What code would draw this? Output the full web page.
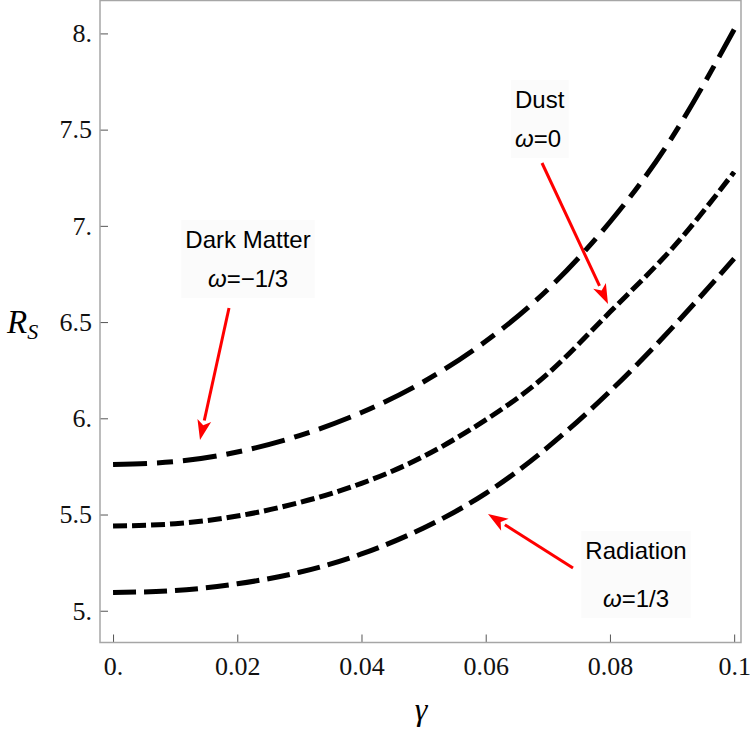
<!DOCTYPE html>
<html>
<head>
<meta charset="utf-8">
<script src="https://cdn.jsdelivr.net/npm/d3@7"></script>
<style>
  body { margin: 0; background: #fff; }
  svg { display: block; }
</style>
</head>
<body>
<div id="chart"></div>
<script>
// gamma values sampled along the curves
const gammas = [0, 0.01, 0.02, 0.03, 0.04, 0.05, 0.06, 0.07, 0.08, 0.09, 0.1];

// R_S for each fluid
const darkMatter = [5.76, 5.775, 5.825, 5.91, 6.03, 6.19, 6.4, 6.67, 7.02, 7.46, 8.02];
const dust = [5.44, 5.452, 5.492, 5.562, 5.662, 5.802, 5.992, 6.232, 6.552, 6.882, 7.28];
const radiation = [5.095, 5.105, 5.14, 5.2, 5.295, 5.43, 5.61, 5.85, 6.14, 6.47, 6.83];

const xTicks = [0, 0.02, 0.04, 0.06, 0.08, 0.1];
const xTickLabels = ["0.", "0.02", "0.04", "0.06", "0.08", "0.1"];
const yTicks = [5, 5.5, 6, 6.5, 7, 7.5, 8];
const yTickLabels = ["5.", "5.5", "6.", "6.5", "7.", "7.5", "8."];

const series = [
  { name: "darkMatter", values: darkMatter, dash: "34,10,16,10" },
  { name: "dust", values: dust, dash: "14,5" },
  { name: "radiation", values: radiation, dash: "23,8" },
];

const width = 750;
const height = 740;
const frame = { left: 100, right: 741, top: 0.5, bottom: 642.5 };

const svg = d3
  .select("#chart")
  .append("svg")
  .attr("width", width)
  .attr("height", height);

const xScale = d3
  .scaleLinear()
  .domain([-0.0021, 0.1011])
  .range([frame.left, frame.right]);
const yScale = d3
  .scaleLinear()
  .domain([4.835, 8.171])
  .range([frame.bottom, frame.top]);

// x axis (ticks point into the plot)
const xAxis = d3
  .axisBottom(xScale)
  .tickValues(xTicks)
  .tickSize(-8)
  .tickPadding(14)
  .tickFormat((d, i) => xTickLabels[i]);
const gx = svg
  .append("g")
  .attr("transform", `translate(0,${frame.bottom})`)
  .call(xAxis);

const yAxis = d3
  .axisLeft(yScale)
  .tickValues(yTicks)
  .tickSize(-8)
  .tickPadding(8)
  .tickFormat((d, i) => yTickLabels[i]);
const gy = svg
  .append("g")
  .attr("transform", `translate(${frame.left},0)`)
  .call(yAxis);

[gx, gy].forEach((g) => {
  g.select(".domain").remove();
  g.selectAll(".tick line").attr("stroke", "#555").attr("stroke-width", 1);
  g.selectAll(".tick text")
    .attr("fill", "#111")
    .style("font-family", "'Liberation Serif', 'Times New Roman', serif")
    .style("font-size", "26px");
});
gx.selectAll(".tick text").attr("dy", "0.71em");

// plot frame
svg
  .append("rect")
  .attr("x", frame.left)
  .attr("y", frame.top)
  .attr("width", frame.right - frame.left)
  .attr("height", frame.bottom - frame.top)
  .attr("fill", "none")
  .attr("stroke", "#a6a6a6")
  .attr("stroke-width", 1.5);

// annotations (boxes sit under the curves)
const notes = [
  { title: "Dark Matter", omega: "=−1/3", cx: 248, y1: 248, y2: 287,
    from: [229, 308], to: [200, 440] },
  { title: "Dust", omega: "=0", cx: 541, y1: 108, y2: 147,
    from: [542, 163], to: [608, 304], left: 515 },
  { title: "Radiation", omega: "=1/3", cx: 636, y1: 559, y2: 607,
    from: [573, 568], to: [488, 514] },
];

const notesG = svg.append("g");

// curves
const line = d3
  .line()
  .x((d, i) => xScale(gammas[i]))
  .y((d) => yScale(d))
  .curve(d3.curveNatural);

svg
  .append("g")
  .selectAll("path")
  .data(series)
  .enter()
  .append("path")
  .attr("d", (d) => line(d.values))
  .attr("fill", "none")
  .attr("stroke", "#000")
  .attr("stroke-width", 5)
  .attr("stroke-dasharray", (d) => d.dash);

// axis titles
svg
  .append("text")
  .attr("x", 421)
  .attr("y", 720)
  .attr("text-anchor", "middle")
  .style("font-family", "'Liberation Serif', 'Times New Roman', serif")
  .style("font-style", "italic")
  .style("font-size", "32px")
  .text("γ");

const ry = svg
  .append("text")
  .attr("x", 7)
  .attr("y", 333)
  .style("font-family", "'Liberation Serif', 'Times New Roman', serif")
  .style("font-style", "italic")
  .style("font-size", "33px");
ry.append("tspan").text("R");
ry.append("tspan").attr("dy", 6).style("font-size", "22px").text("S");

notes.forEach((n) => {
  const anchor = n.left != null ? "start" : "middle";
  const tx = n.left != null ? n.left : n.cx;
  const box = notesG.append("rect").attr("fill", "#fbfbfb");
  const t1 = notesG
    .append("text")
    .attr("x", tx)
    .attr("y", n.y1)
    .attr("text-anchor", anchor)
    .style("font-family", "'Liberation Sans', Arial, sans-serif")
    .style("font-size", "24px")
    .text(n.title);
  const t2 = notesG
    .append("text")
    .attr("x", tx)
    .attr("y", n.y2)
    .attr("text-anchor", anchor)
    .style("font-family", "'Liberation Sans', Arial, sans-serif")
    .style("font-size", "24px");
  t2.append("tspan").style("font-style", "italic").text("ω");
  t2.append("tspan").text(n.omega);

  const b1 = t1.node().getBBox();
  const b2 = t2.node().getBBox();
  const bx0 = Math.min(b1.x, b2.x) - 4;
  const bx1 = Math.max(b1.x + b1.width, b2.x + b2.width) + 4;
  box
    .attr("x", bx0)
    .attr("y", b1.y - 6)
    .attr("width", bx1 - bx0)
    .attr("height", b2.y + b2.height - b1.y + 12);

  // arrow shaft + head
  const [x0, y0] = n.from;
  const [x1, y1] = n.to;
  const ang = Math.atan2(y1 - y0, x1 - x0);
  const headLen = 20;
  const headW = 7;
  const hx = x1 - headLen * Math.cos(ang);
  const hy = y1 - headLen * Math.sin(ang);
  notesG
    .append("line")
    .attr("x1", x0)
    .attr("y1", y0)
    .attr("x2", hx)
    .attr("y2", hy)
    .attr("stroke", "#ff0000")
    .attr("stroke-width", 3);
  const px = -Math.sin(ang) * headW;
  const py = Math.cos(ang) * headW;
  notesG
    .append("path")
    .attr(
      "d",
      `M${x1},${y1}L${hx + px},${hy + py}L${hx + (x1 - hx) * 0.25},${hy + (y1 - hy) * 0.25}L${hx - px},${hy - py}Z`
    )
    .attr("fill", "#ff0000");
});
</script>
</body>
</html>
